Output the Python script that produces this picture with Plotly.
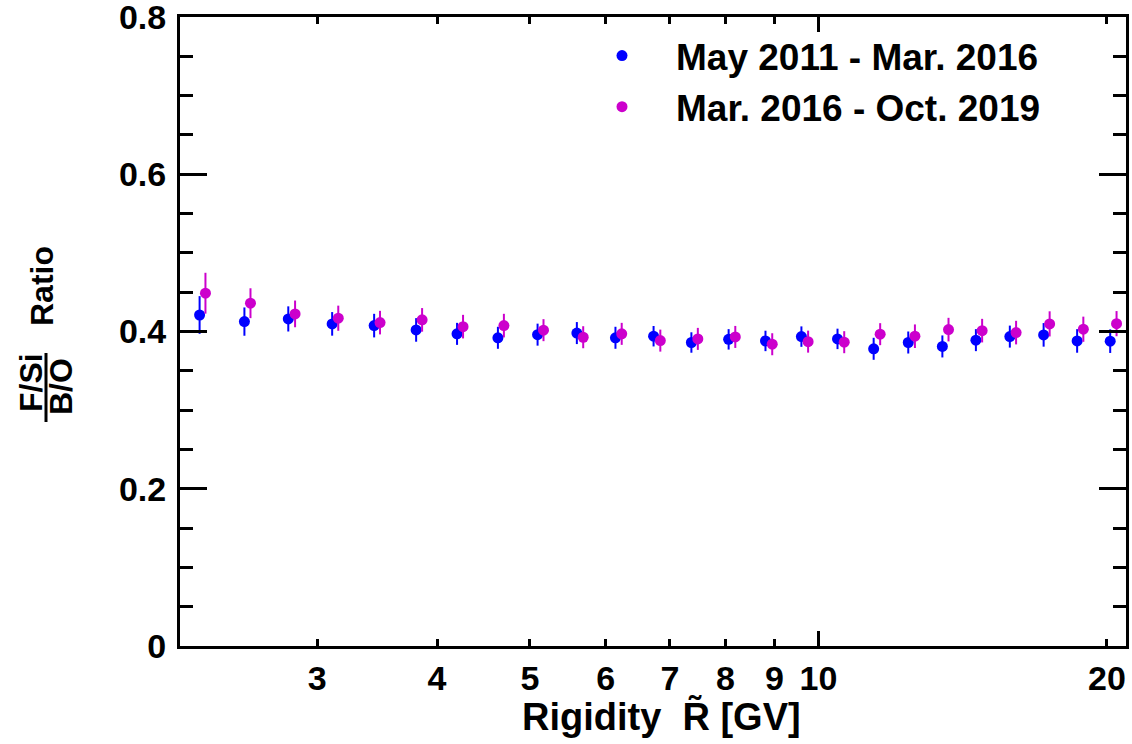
import plotly.graph_objects as go
import numpy as np

# ---- data ----
rig_a = [2.261, 2.518, 2.798, 3.109, 3.439, 3.804, 4.197, 4.630, 5.093, 5.597, 6.141, 6.73, 7.37,
         8.06, 8.806, 9.60, 10.47, 11.42, 12.41, 13.47, 14.60, 15.84, 17.18, 18.62, 20.16]
ratio_a = [0.421, 0.4126, 0.416, 0.4097, 0.4075, 0.402, 0.397, 0.392, 0.396, 0.398, 0.392, 0.394, 0.386,
           0.390, 0.388, 0.3935, 0.3906, 0.378, 0.386, 0.381, 0.389, 0.3935, 0.3957, 0.388, 0.3877]
err_a = [0.024, 0.018, 0.016, 0.015, 0.015, 0.015, 0.014, 0.014, 0.014, 0.014, 0.014, 0.013, 0.013,
         0.013, 0.013, 0.013, 0.013, 0.014, 0.014, 0.014, 0.014, 0.014, 0.015, 0.015, 0.015]

rig_b = [2.293, 2.555, 2.844, 3.155, 3.488, 3.859, 4.258, 4.697, 5.166, 5.683, 6.234, 6.84, 7.485,
         8.19, 8.95, 9.756, 10.64, 11.60, 12.61, 13.67, 14.82, 16.08, 17.43, 18.90, 20.47]
ratio_b = [0.4487, 0.436, 0.4224, 0.4169, 0.4113, 0.4148, 0.4062, 0.4075, 0.4017, 0.3927, 0.397, 0.3884, 0.3906,
           0.3931, 0.3838, 0.3871, 0.3864, 0.3966, 0.394, 0.4024, 0.4011, 0.3986, 0.4097, 0.4029, 0.41]
err_b = [0.026, 0.019, 0.017, 0.016, 0.015, 0.015, 0.015, 0.015, 0.014, 0.014, 0.014, 0.014, 0.014,
         0.014, 0.014, 0.014, 0.014, 0.014, 0.015, 0.015, 0.015, 0.015, 0.016, 0.016, 0.016]

label_a = "May 2011 - Mar. 2016"
label_b = "Mar. 2016 - Oct. 2019"

x_ticks = [3, 4, 5, 6, 7, 8, 9, 10, 20]
x_ticktext = ["3", "4", "5", "6", "7", "8", "9", "10", "20"]
x_major = [10]
x_range = [2.157, 20.94]
y_ticks = [0, 0.2, 0.4, 0.6, 0.8]
y_ticktext = ["0", "0.2", "0.4", "0.6", "0.8"]
y_range = [0, 0.8]

BLUE = "#0000ff"
MAGENTA = "#cc00cc"
FONT = "Liberation Sans"

fig = go.Figure()
for xs, ys, es, col, name in [(rig_a, ratio_a, err_a, BLUE, label_a),
                              (rig_b, ratio_b, err_b, MAGENTA, label_b)]:
    fig.add_trace(go.Scatter(
        x=xs, y=ys, mode="markers", name=name,
        marker=dict(color=col, size=11, symbol="circle", line=dict(width=0)),
        error_y=dict(type="data", array=es, visible=True, color=col, thickness=2, width=0),
    ))

W, H = 1132, 744
L, R, T, B = 180, 6, 17, 98
pw, ph = W - L - R, H - T - B

def px(xp):
    return (xp - L) / pw

def py(yp):
    return (H - B - yp) / ph

eps = 1e-4
fig.update_layout(
    width=W, height=H,
    margin=dict(l=L, r=R, t=T, b=B, autoexpand=False),
    paper_bgcolor="white", plot_bgcolor="white",
    font=dict(family=FONT, color="black", size=34),
    showlegend=True,
    legend=dict(
        x=px(568), y=py(25), xanchor="left", yanchor="top",
        bgcolor="rgba(0,0,0,0)", borderwidth=0,
        font=dict(family=FONT, size=37, color="black", weight="bold"),
        itemwidth=98, tracegroupgap=0,
    ),
    xaxis=dict(
        type="log", range=[np.log10(x_range[0]), np.log10(x_range[1])],
        tickmode="array", tickvals=x_ticks, ticktext=x_ticktext,
        ticks="inside", ticklen=7, tickwidth=3, tickcolor="black",
        showline=True, linewidth=3, linecolor="black", mirror="ticks",
        showgrid=False, zeroline=False, automargin=False,
        tickfont=dict(family=FONT, size=34, weight="bold"),
        ticklabelstandoff=0, ticklabeloverflow="allow",
    ),
    xaxis2=dict(
        type="log", range=[np.log10(x_range[0]), np.log10(x_range[1])],
        overlaying="x", anchor="y", side="bottom",
        tickmode="array", tickvals=x_major, showticklabels=False,
        ticks="inside", ticklen=15, tickwidth=3, tickcolor="black",
        showline=False, mirror="ticks", showgrid=False, zeroline=False, automargin=False,
    ),
    yaxis=dict(
        range=[y_range[0] - eps, y_range[1] + eps],
        tickmode="array", tickvals=y_ticks, ticktext=y_ticktext,
        ticks="inside", ticklen=27, tickwidth=3, tickcolor="black",
        minor=dict(dtick=0.05, tick0=0, ticks="inside", ticklen=13, tickwidth=3, tickcolor="black", showgrid=False),
        showline=True, linewidth=3, linecolor="black", mirror="ticks",
        showgrid=False, zeroline=False, automargin=False,
        tickfont=dict(family=FONT, size=34, weight="bold"),
        ticklabelstandoff=4, ticklabeloverflow="allow",
    ),
)

# invisible trace to bind xaxis2
fig.add_trace(go.Scatter(x=[x_range[0]], y=[0], xaxis="x2", yaxis="y", mode="markers",
                         marker=dict(opacity=0), showlegend=False, hoverinfo="skip"))

ann_font = dict(family=FONT, size=32, color="black", weight="bold")
fig.add_annotation(text="Rigidity  R\u0303 [GV]", xref="paper", yref="paper",
                   x=px(661), y=py(717), xanchor="center", yanchor="middle", showarrow=False,
                   font=dict(family=FONT, size=38, color="black", weight="bold"))
fig.add_annotation(text="Ratio", xref="paper", yref="paper", x=px(42), y=py(286),
                   textangle=-90, xanchor="center", yanchor="middle", showarrow=False, font=ann_font)
fig.add_annotation(text="F/Si", xref="paper", yref="paper", x=px(31), y=py(383),
                   textangle=-90, xanchor="center", yanchor="middle", showarrow=False, font=ann_font)
fig.add_annotation(text="B/O", xref="paper", yref="paper", x=px(61), y=py(386),
                   textangle=-90, xanchor="center", yanchor="middle", showarrow=False, font=ann_font)
fig.add_shape(type="line", xref="paper", yref="paper", x0=px(46), x1=px(46), y0=py(353), y1=py(422),
              line=dict(color="black", width=3))

fig.write_html("out.html")
